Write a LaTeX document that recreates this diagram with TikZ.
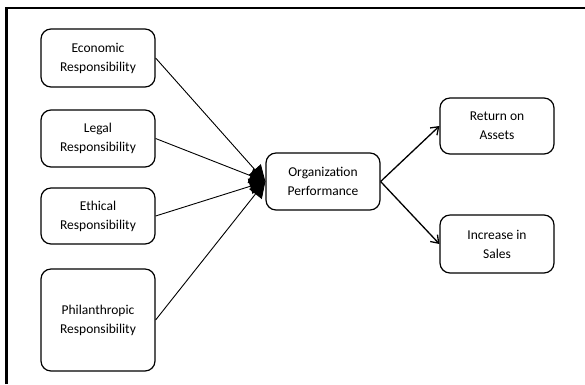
\documentclass[tikz,border=0pt]{standalone}
\usepackage{fontspec}
\setmainfont{Carlito}
\usetikzlibrary{arrows.meta}
\begin{document}
\begin{tikzpicture}[x=1pt,y=-1pt,
  box/.style={draw,line width=1.2pt,rounded corners=10pt,minimum width=114pt,align=center,inner sep=2pt,
    font=\fontsize{13.5}{19}\selectfont},
  inarrow/.style={line width=0.9pt,-{Triangle[length=16pt,width=16pt]}},
  outarrow/.style={line width=1.3pt,-{Straight Barb[length=7pt,width=10pt,line width=1.3pt]}}]
\useasboundingbox (0,0) rectangle (585,384);
\fill[white] (0,0) rectangle (585,384);
\draw[line width=2.5pt] (6.5,384) -- (6.5,8) -- (585,8);
\node[box,minimum height=58pt] (eco) at (98,58) {Economic\\Responsibility};
\node[box,minimum height=57pt] (leg) at (98,138.5) {Legal\\Responsibility};
\node[box,minimum height=56pt] (eth) at (98,216) {Ethical\\Responsibility};
\node[box,minimum height=102pt] (phi) at (98,320) {Philanthropic\\Responsibility};
\node[box,minimum height=57pt] (org) at (323,181.5) {Organization\\Performance};
\node[box,minimum height=56pt] (roa) at (497,126) {Return on\\Assets};
\node[box,minimum height=58pt] (iis) at (497,244) {Increase in\\Sales};
\draw[inarrow] (eco.east) -- (org.west);
\draw[inarrow] (leg.east) -- (org.west);
\draw[inarrow] (eth.east) -- (org.west);
\draw[inarrow] (phi.east) -- (org.west);
\draw[outarrow] (org.east) -- (roa.west);
\draw[outarrow] (org.east) -- (iis.west);
\end{tikzpicture}
\end{document}
